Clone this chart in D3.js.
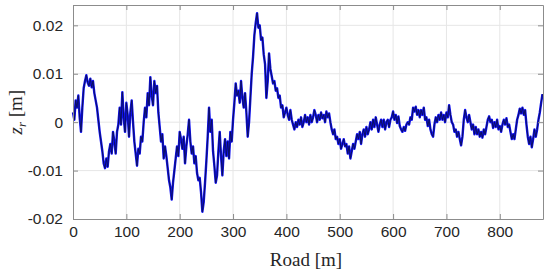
<!DOCTYPE html>
<html>
<head>
<meta charset="utf-8">
<script src="https://cdn.jsdelivr.net/npm/d3@7"></script>
<style>
  body { margin: 0; background: #fff; }
  .tick text { font-family: "Liberation Sans", Arial, sans-serif; font-size: 15.5px; fill: #262626; }
  .axlabel { font-family: "Liberation Serif", "Times New Roman", serif; font-size: 19px; fill: #262626; }
</style>
</head>
<body>
<div id="chart"></div>
<script>
// road position [m], sampled every 2.5 m
var roadStep = 2.5;
// z_r [m] (one row = 20 m)
var zr = [
  0.002, 0.0005, 0.0045, 0.003, 0.0055, 0.001, -0.002, 0.003,
  0.007, 0.0085, 0.0097, 0.0082, 0.0075, 0.009, 0.0072, 0.0085,
  0.006, 0.0045, 0.003, 0.0005, -0.002, -0.004, -0.006, -0.0085,
  -0.0095, -0.0075, -0.0092, -0.006, -0.0045, -0.0065, -0.002, -0.004,
  -0.0065, -0.002, -0.0005, 0.003, -0.0005, 0.0062, 0.001, -0.002,
  0.004, 0.0015, -0.003, 0.002, 0.0045, 0.0, -0.004, -0.0065,
  -0.009, -0.0055, -0.0065, -0.003, -0.004, 0.0, 0.003, 0.001,
  0.006, 0.0035, 0.0093, 0.0055, 0.0035, 0.0085, 0.006, 0.0075,
  0.002, -0.001, -0.004, -0.0025, -0.0075, -0.005, -0.007, -0.0095,
  -0.012, -0.0135, -0.016, -0.0125, -0.01, -0.0075, -0.005, -0.007,
  -0.002, -0.0035, -0.0055, -0.003, -0.0085, -0.005, -0.0025, 0.0005,
  -0.004, -0.0065, -0.005, -0.0085, -0.007, -0.0105, -0.012, -0.0115,
  -0.0145, -0.0185, -0.0165, -0.0125, -0.008, -0.003, 0.003, -0.002,
  0.0005, -0.006, -0.009, -0.0125, -0.011, -0.006, -0.002, -0.007,
  -0.011, -0.006, -0.0035, -0.007, -0.004, -0.0075, -0.002, -0.004,
  0.0005, 0.004, 0.008, 0.0055, 0.0065, 0.004, 0.0085, 0.005,
  0.003, 0.006, 0.002, -0.003, 0.0, 0.005, 0.01, 0.0135,
  0.018, 0.0205, 0.0225, 0.0195, 0.02, 0.017, 0.0175, 0.014,
  0.012, 0.005, 0.0085, 0.0142, 0.011, 0.0095, 0.008, 0.0085,
  0.0065, 0.007, 0.005, 0.0055, 0.003, 0.0035, 0.001, 0.002,
  0.003, 0.0015, 0.0005, 0.0025, 0.0005, -0.0005, -0.0015, 0.0,
  -0.001, 0.0005, -0.0005, 0.001, -0.001, 0.0, 0.0015, 0.0,
  0.001, -0.0005, 0.0015, 0.0, 0.001, 0.0025, 0.0015, 0.0,
  0.0015, 0.0005, 0.002, 0.0008, 0.0015, 0.0, 0.0022, 0.001,
  0.0018, 0.0, -0.0015, -0.0025, -0.0015, -0.0035, -0.003, -0.0045,
  -0.0035, -0.0055, -0.0045, -0.0035, -0.005, -0.0045, -0.0065, -0.005,
  -0.0075, -0.006, -0.0045, -0.0055, -0.004, -0.0025, -0.0035, -0.002,
  -0.0045, -0.0025, -0.0015, -0.003, -0.001, -0.0025, -0.0015, 0.0,
  -0.0015, 0.0005, -0.001, 0.001, -0.0005, -0.002, -0.0005, 0.0005,
  -0.001, 0.0005, -0.0015, 0.0, 0.0005, -0.001, 0.0005, 0.001,
  0.0022, 0.0005, 0.0015, -0.0002, 0.0012, -0.0008, -0.0015, -0.002,
  -0.001, -0.0018, -0.0005, 0.0, -0.0005, 0.001, 0.0005, 0.003,
  0.0022, 0.0032, 0.0015, 0.0025, 0.001, 0.0025, 0.0015, 0.003,
  0.0005, 0.001, -0.0008, 0.0005, -0.0015, -0.0025, -0.003, -0.0005,
  0.001, 0.0, 0.0015, 0.0005, 0.002, 0.0005, 0.0015, 0.0,
  0.002, 0.001, 0.0035, 0.0015, 0.0, -0.0005, -0.002, -0.0015,
  -0.003, -0.002, -0.0035, -0.0048, -0.003, 0.0005, 0.0025, 0.001,
  0.0, 0.0015, 0.0, -0.0015, -0.0005, -0.0025, -0.001, -0.0025,
  -0.0015, -0.003, -0.002, -0.0032, -0.0015, -0.0025, -0.001, 0.0005,
  0.0012, 0.0, 0.0005, -0.0012, 0.0, -0.001, 0.0005, -0.0015,
  -0.0008, -0.002, -0.0005, 0.0005, -0.0005, 0.0008, -0.001, -0.0005,
  -0.002, -0.0035, -0.0025, -0.0035, -0.0015, 0.0005, 0.0015, 0.0028,
  0.0018, 0.003, 0.0015, 0.0025, -0.0005, -0.003, -0.0045, -0.003,
  -0.0052, -0.0035, -0.0015, -0.003, -0.0015, 0.0005, 0.002, 0.004,
  0.0058
];
var xTicks = [0, 100, 200, 300, 400, 500, 600, 700, 800];
var yTicks = [-0.02, -0.01, 0, 0.01, 0.02];
var xDomain = [0, 881];
var yDomain = [-0.02, 0.0242];

var data = zr.map(function(v, i) { return {road: i * roadStep, z: v}; });

var W = 550, H = 272;
var margin = {top: 5, right: 7, bottom: 53, left: 73};
var width = W - margin.left - margin.right;
var height = H - margin.top - margin.bottom;

var svg = d3.select("#chart").append("svg")
    .attr("width", W)
    .attr("height", H);

var g = svg.append("g")
    .attr("transform", "translate(" + margin.left + "," + margin.top + ")");

var x = d3.scaleLinear().domain(xDomain).range([0, width]);
var y = d3.scaleLinear().domain(yDomain).range([height, 0]);

// grid
g.append("g").selectAll("line")
    .data(xTicks.slice(1))
    .enter().append("line")
    .attr("x1", d => x(d)).attr("x2", d => x(d))
    .attr("y1", 0).attr("y2", height)
    .attr("stroke", "#e6e6e6").attr("stroke-width", 1);
g.append("g").selectAll("line")
    .data(yTicks.slice(1))
    .enter().append("line")
    .attr("x1", 0).attr("x2", width)
    .attr("y1", d => y(d)).attr("y2", d => y(d))
    .attr("stroke", "#e6e6e6").attr("stroke-width", 1);

// line
var line = d3.line()
    .x(d => x(d.road))
    .y(d => y(d.z));

g.append("path")
    .datum(data)
    .attr("fill", "none")
    .attr("stroke", "#0f10f2")
    .attr("stroke-width", 2.4)
    .attr("stroke-linejoin", "round")
    .attr("d", line);
g.append("path")
    .datum(data)
    .attr("fill", "none")
    .attr("stroke", "#0b0f55")
    .attr("stroke-width", 0.9)
    .attr("stroke-linejoin", "round")
    .attr("d", line);

// axes (inward ticks, box)
var fmtY = function(d) { return d === 0 ? "0" : d3.format(".2f")(d).replace("−", "-"); };

var xAxis = g.append("g")
    .attr("transform", "translate(0," + height + ")")
    .call(d3.axisBottom(x).tickValues(xTicks).tickSizeInner(-5).tickSizeOuter(0).tickPadding(12));
var yAxis = g.append("g")
    .call(d3.axisLeft(y).tickValues(yTicks).tickFormat(fmtY).tickSizeInner(-5).tickSizeOuter(0).tickPadding(10));
var xTop = g.append("g")
    .call(d3.axisTop(x).tickValues(xTicks).tickSizeInner(-5).tickSizeOuter(0).tickFormat(""));
var yRight = g.append("g")
    .attr("transform", "translate(" + width + ",0)")
    .call(d3.axisRight(y).tickValues(yTicks).tickSizeInner(-5).tickSizeOuter(0).tickFormat(""));

[xAxis, yAxis, xTop, yRight].forEach(function(a) {
    a.select(".domain").attr("stroke", "#8c8c8c");
    a.selectAll(".tick line").attr("stroke", "#8c8c8c");
});
xAxis.selectAll(".tick text").attr("dy", "0.35em").attr("y", 13);

// labels
svg.append("text")
    .attr("class", "axlabel")
    .attr("x", margin.left + width / 2 - 2)
    .attr("y", 266)
    .attr("text-anchor", "middle")
    .text("Road [m]");

var yl = svg.append("text")
    .attr("class", "axlabel")
    .attr("transform", "translate(22," + (margin.top + y(0) - 10) + ") rotate(-90)")
    .attr("text-anchor", "middle");
yl.append("tspan").attr("font-style", "italic").text("z");
yl.append("tspan").attr("font-style", "italic").attr("font-size", "13px").attr("dy", 4).text("r");
yl.append("tspan").attr("dy", -4).text(" [m]");
</script>
</body>
</html>
